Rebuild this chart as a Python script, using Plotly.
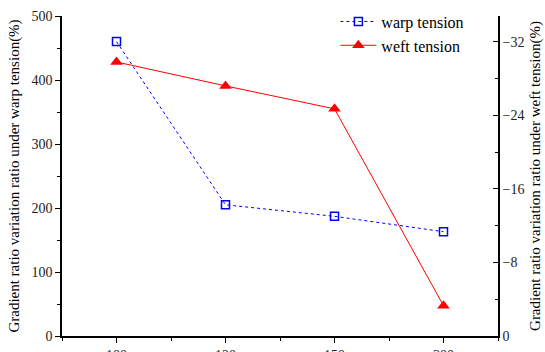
import plotly.graph_objects as go

categories = ["100", "120", "150", "200"]
warp_tension = [460, 205, 187, 163]
weft_tension = [-29.8, -27.2, -24.7, -3.3]
left_ticks = [0, 100, 200, 300, 400, 500]
left_minor = [50, 150, 250, 350, 450]
right_ticks = [0, -8, -16, -24, -32]
right_minor = [-4, -12, -20, -28]

xpos = list(range(len(categories)))
x_minor = [i - 0.5 for i in range(len(categories) + 1)]

FONT = "Liberation Serif"

fig = go.Figure()
fig.add_trace(go.Scatter(
    x=xpos, y=warp_tension, name="warp tension", mode="lines+markers",
    line=dict(color="#0000ff", width=1, dash="dot"),
    marker=dict(symbol="square-open", size=8, color="#0000ff", line=dict(width=1.5, color="#0000ff")),
))
fig.add_trace(go.Scatter(
    x=xpos, y=weft_tension, name="weft tension", mode="lines+markers", yaxis="y2",
    line=dict(color="#ff0000", width=1),
    marker=dict(symbol="triangle-up", size=11, color="#ff0000"),
))

axis_common = dict(showline=True, linecolor="black", linewidth=1.5, showgrid=False,
                   zeroline=False, tickcolor="black", tickwidth=1.2, automargin=False,
                   tickfont=dict(family=FONT, size=14, color="#222"))

fig.update_layout(
    width=545, height=352,
    margin=dict(l=62, r=47, t=16, b=16, autoexpand=False),
    paper_bgcolor="white", plot_bgcolor="white",
    font=dict(family=FONT, color="black", size=14),
    showlegend=True,
    legend=dict(x=0.627, y=0.987, xref="paper", yref="container", xanchor="left", yanchor="top",
                bgcolor="rgba(0,0,0,0)",
                font=dict(family=FONT, size=16, color="black"), tracegroupgap=0,
                itemwidth=36),
    xaxis=dict(range=[-0.5, 3.5], tickvals=xpos, ticktext=categories, ticks="outside", ticklen=5,
               minor=dict(tickvals=x_minor, ticks="outside", ticklen=3, tickcolor="black"),
               **axis_common),
    yaxis=dict(range=[0, 500], tickvals=left_ticks, ticks="outside", ticklen=5,
               minor=dict(tickvals=left_minor, ticks="outside", ticklen=3, tickcolor="black"),
               title=dict(text="Gradient ratio variation ratio under warp tension(%)",
                          font=dict(family=FONT, size=15, color="black"), standoff=8),
               **axis_common),
    yaxis2=dict(overlaying="y", side="right", range=[0, -34.8], tickvals=right_ticks,
                ticks="inside", ticklen=5,
                minor=dict(tickvals=right_minor, ticks="inside", ticklen=3, tickcolor="black"),
                title=dict(text="Gradient ratio variation ratio under weft tension(%)",
                           font=dict(family=FONT, size=15, color="black"), standoff=6),
                **axis_common),
)

fig.write_html("out.html")
